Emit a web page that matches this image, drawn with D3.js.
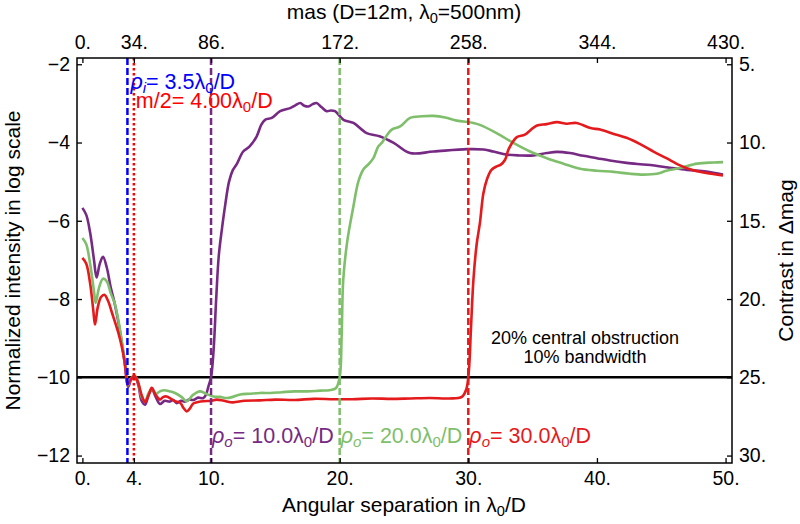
<!DOCTYPE html>
<html>
<head>
<meta charset="utf-8">
<script src="https://cdn.jsdelivr.net/npm/d3@7"></script>
<style>
  body { margin: 0; background: #fff; }
  svg { font-family: "Liberation Sans", Arial, sans-serif; }
</style>
</head>
<body>
<div id="chart"></div>
<script>
// curves: x in lambda0/D, y = log10 normalized intensity
const purpleX = [0.0, 0.3, 0.6, 0.9, 1.1, 1.35, 1.6, 1.9, 2.2, 2.5, 2.8, 3.1, 3.35, 3.55, 3.8, 4.05, 4.35, 4.6, 4.87, 5.15, 5.4, 5.7, 6.03, 6.4, 6.8, 7.05, 7.33, 7.65, 7.98, 8.3, 8.62, 9.0, 9.4, 9.6, 9.8, 10.0, 10.2, 10.4, 10.6, 10.85, 11.1, 11.4, 11.7, 12.0, 12.5, 13.0, 13.55, 13.9, 14.2, 14.72, 15.37, 16.15, 16.55, 16.93, 17.25, 17.57, 17.9, 18.2, 18.6, 19.0, 19.3, 19.64, 20.3, 21.07, 22.1, 23.1, 24.2, 25.47, 27.3, 29.9, 31.2, 31.95, 33.0, 34.0, 35.06, 36.1, 36.9, 37.9, 38.95, 40.0, 41.0, 42.3, 43.9, 45.4, 47.0, 48.5, 49.8];
const purpleY = [-5.67, -5.85, -6.3, -7.0, -7.45, -7.1, -6.92, -7.2, -7.7, -8.1, -8.6, -9.2, -9.8, -10.25, -10.05, -9.97, -10.2, -10.6, -10.7, -10.45, -10.31, -10.5, -10.68, -10.6, -10.62, -10.58, -10.66, -10.6, -10.62, -10.57, -10.58, -10.52, -10.53, -10.45, -10.23, -10.0, -9.3, -8.0, -6.9, -6.2, -5.6, -5.0, -4.7, -4.55, -4.23, -4.1, -3.84, -3.55, -3.42, -3.37, -3.2, -3.12, -3.05, -2.99, -3.06, -3.08, -3.02, -2.99, -3.1, -3.2, -3.18, -3.2, -3.42, -3.5, -3.76, -3.84, -4.01, -4.27, -4.23, -4.17, -4.18, -4.23, -4.31, -4.33, -4.33, -4.27, -4.24, -4.27, -4.34, -4.4, -4.46, -4.52, -4.57, -4.63, -4.7, -4.74, -4.82];

const greenX = [0.0, 0.3, 0.6, 0.9, 1.03, 1.3, 1.6, 1.9, 2.2, 2.5, 2.8, 3.1, 3.35, 3.55, 3.8, 4.05, 4.35, 4.6, 4.87, 5.15, 5.4, 5.7, 6.03, 6.35, 6.8, 7.2, 7.7, 8.11, 8.6, 9.14, 9.6, 10.18, 10.7, 11.22, 11.7, 12.26, 13.0, 13.8, 14.6, 15.5, 16.5, 17.5, 18.5, 19.2, 19.7, 20.0, 20.15, 20.28, 20.6, 21.07, 21.45, 21.84, 22.25, 22.62, 23.0, 23.27, 23.7, 24.05, 24.7, 25.47, 26.4, 27.3, 28.2, 29.1, 30.4, 30.9, 32.2, 33.5, 34.8, 36.1, 37.4, 38.7, 40.0, 41.3, 42.6, 43.6, 44.66, 45.4, 46.5, 47.8, 49.06, 49.8];
const greenY = [-6.44, -6.6, -7.1, -7.8, -8.1, -7.7, -7.48, -7.55, -7.85, -8.1, -8.55, -9.15, -9.75, -10.2, -10.02, -9.95, -10.15, -10.5, -10.6, -10.4, -10.3, -10.42, -10.36, -10.33, -10.36, -10.4, -10.5, -10.61, -10.45, -10.36, -10.42, -10.49, -10.5, -10.53, -10.5, -10.44, -10.42, -10.4, -10.4, -10.38, -10.36, -10.36, -10.34, -10.33, -10.28, -10.0, -9.0, -7.5, -6.5, -5.63, -5.0, -4.69, -4.55, -4.4, -4.1, -4.01, -3.8, -3.67, -3.59, -3.37, -3.33, -3.32, -3.36, -3.44, -3.5, -3.55, -3.76, -4.01, -4.23, -4.4, -4.54, -4.67, -4.72, -4.75, -4.8, -4.82, -4.8, -4.72, -4.65, -4.54, -4.51, -4.5];

const redX = [0.0, 0.3, 0.6, 0.85, 0.98, 1.2, 1.45, 1.7, 2.0, 2.3, 2.8, 3.05, 3.3, 3.52, 3.8, 4.04, 4.3, 4.6, 4.87, 5.15, 5.39, 5.7, 6.03, 6.3, 6.55, 6.9, 7.2, 7.6, 7.85, 8.11, 8.35, 8.62, 9.0, 9.4, 10.0, 10.44, 11.0, 11.7, 12.6, 13.8, 15.0, 16.5, 18.0, 19.5, 21.0, 22.5, 24.0, 25.5, 27.0, 28.5, 29.5, 29.85, 30.05, 30.2, 30.4, 30.65, 30.9, 31.17, 31.44, 31.8, 32.2, 32.5, 32.86, 33.1, 33.4, 33.77, 34.4, 34.85, 35.3, 36.1, 36.9, 37.66, 38.4, 39.5, 40.25, 41.3, 42.3, 43.36, 44.4, 45.4, 46.5, 47.5, 48.5, 49.8];
const redY = [-6.95, -7.1, -7.6, -8.3, -8.65, -8.2, -7.95, -7.89, -8.05, -8.35, -8.87, -9.2, -9.63, -10.19, -10.03, -9.96, -10.1, -10.45, -10.63, -10.45, -10.27, -10.45, -10.57, -10.5, -10.49, -10.55, -10.61, -10.65, -10.78, -10.87, -10.8, -10.67, -10.63, -10.61, -10.6, -10.57, -10.6, -10.64, -10.6, -10.59, -10.57, -10.58, -10.55, -10.56, -10.56, -10.54, -10.55, -10.54, -10.53, -10.54, -10.5, -10.3, -9.8, -8.8, -7.5, -6.6, -6.06, -5.3, -4.95, -4.7, -4.61, -4.57, -4.44, -4.2, -4.01, -3.86, -3.8, -3.68, -3.57, -3.53, -3.48, -3.52, -3.5, -3.63, -3.67, -3.78, -3.88, -4.04, -4.23, -4.4, -4.59, -4.71, -4.78, -4.84];

const xTicks = [0, 4, 10, 20, 30, 40, 50];
const xTickLabels = ["0.", "4.", "10.", "20.", "30.", "40.", "50."];
const masTickLabels = ["0.", "34.", "86.", "172.", "258.", "344.", "430."];
const yTicks = [-12, -10, -8, -6, -4, -2];
const magTicks = [5, 10, 15, 20, 25, 30];

const innerRadius = 3.5;      // rho_i
const halfSampling = 4.0;     // m/2
const outerRadii = [10, 20, 30];
const threshold = -10;

const W = 800, H = 524;
const margin = { top: 58, right: 68, bottom: 61, left: 77 };
const purple = "#762a83", green = "#7fbf6b", red = "#e41a1c";
const seriesColors = [purple, green, red];

const svg = d3.select("#chart").append("svg")
  .attr("width", W).attr("height", H);

const x = d3.scaleLinear().domain([-0.42, 50.5]).range([margin.left, W - margin.right]);
const y = d3.scaleLinear().domain([-12.19, -1.84]).range([H - margin.bottom, margin.top]);
const yMag = d3.scaleLinear().domain([-2.5 * -12.19, -2.5 * -1.84]).range([H - margin.bottom, margin.top]);

const plotTop = margin.top, plotBottom = H - margin.bottom;

// curves
const line = d3.line()
  .x(d => x(d[0]))
  .y(d => y(d[1]))
  .curve(d3.curveCatmullRom.alpha(0.5));

const series = [
  { xs: purpleX, ys: purpleY, color: purple },
  { xs: greenX, ys: greenY, color: green },
  { xs: redX, ys: redY, color: red }
];

// threshold line
svg.append("line")
  .attr("x1", margin.left).attr("x2", W - margin.right)
  .attr("y1", y(threshold)).attr("y2", y(threshold))
  .attr("stroke", "#000").attr("stroke-width", 2.5);

series.forEach(s => {
  svg.append("path")
    .datum(s.xs.map((v, i) => [v, s.ys[i]]))
    .attr("fill", "none")
    .attr("stroke", s.color)
    .attr("stroke-width", 2.6)
    .attr("stroke-linejoin", "round")
    .attr("d", line);
});

// vertical markers
const vline = (xv, color, dash) => svg.append("line")
  .attr("x1", x(xv)).attr("x2", x(xv))
  .attr("y1", plotTop).attr("y2", plotBottom)
  .attr("stroke", color).attr("stroke-width", 2.5)
  .attr("stroke-dasharray", dash);

vline(innerRadius, "#0000ff", "7,3");
vline(halfSampling, "#ff0000", "2.5,2.5");
outerRadii.forEach((r, i) => vline(r, seriesColors[i], "7,3"));

// frame
svg.append("rect")
  .attr("x", margin.left).attr("y", margin.top)
  .attr("width", W - margin.left - margin.right)
  .attr("height", H - margin.top - margin.bottom)
  .attr("fill", "none").attr("stroke", "#000").attr("stroke-width", 1.5);

// axes (ticks pointing inwards)
const tickFont = "19.5px";
const styleAxis = g => {
  g.select(".domain").remove();
  g.selectAll(".tick line").attr("stroke", "#000").attr("stroke-width", 1.3);
  g.selectAll(".tick text").attr("fill", "#000").style("font-size", tickFont)
    .style("font-family", "Liberation Sans, Arial, sans-serif");
};

svg.append("g")
  .attr("transform", `translate(0,${plotBottom})`)
  .call(d3.axisBottom(x).tickValues(xTicks)
    .tickFormat((d, i) => xTickLabels[i]).tickSizeInner(-5).tickPadding(8))
  .call(styleAxis);

svg.append("g")
  .attr("transform", `translate(0,${plotTop})`)
  .call(d3.axisTop(x).tickValues(xTicks)
    .tickFormat((d, i) => masTickLabels[i]).tickSizeInner(-5).tickPadding(9))
  .call(styleAxis);

svg.append("g")
  .attr("transform", `translate(${margin.left},0)`)
  .call(d3.axisLeft(y).tickValues(yTicks)
    .tickFormat(d => "\u2212" + Math.abs(d)).tickSizeInner(-5).tickPadding(7))
  .call(styleAxis);

svg.append("g")
  .attr("transform", `translate(${W - margin.right},0)`)
  .call(d3.axisRight(yMag).tickValues(magTicks)
    .tickFormat(d => d + ".").tickSizeInner(-5).tickPadding(7))
  .call(styleAxis);

// text with italic / subscript pieces, subscript dropped a little like mathtext
function richText(sel, size, parts) {
  sel.style("font-size", size + "px");
  const drop = 0.2 * size;
  parts.forEach(p => {
    const t = sel.append("tspan").text(p.t);
    if (p.it) t.attr("font-style", "italic");
    if (p.sub) t.attr("font-size", (0.7 * size) + "px").attr("dy", drop);
    if (p.after) t.attr("dy", -drop);
  });
  return sel;
}

const lambda0D = [{ t: "\u03bb" }, { t: "0", sub: true }, { t: "/D", after: true }];
const titleSize = 21;
const annSize = 21.5;

// titles
richText(svg.append("text")
  .attr("x", 404).attr("y", 19).attr("text-anchor", "middle"), titleSize,
  [{ t: "mas (D=12m, " }, { t: "\u03bb" }, { t: "0", sub: true }, { t: "=500nm)", after: true }]);

richText(svg.append("text")
  .attr("x", 404).attr("y", 512).attr("text-anchor", "middle"), titleSize,
  [{ t: "Angular separation in " }, ...lambda0D]);

svg.append("text")
  .attr("transform", `translate(20,${(plotTop + plotBottom) / 2}) rotate(-90)`)
  .attr("text-anchor", "middle").style("font-size", titleSize + "px")
  .text("Normalized intensity in log scale");

svg.append("text")
  .attr("transform", `translate(793,${(plotTop + plotBottom) / 2}) rotate(-90)`)
  .attr("text-anchor", "middle").style("font-size", titleSize + "px")
  .text("Contrast in \u0394mag");

// annotations
richText(svg.append("text")
  .attr("x", x(innerRadius) + 3).attr("y", 89)
  .attr("fill", "#0000ff"), annSize,
  [{ t: "\u03c1", it: true }, { t: "i", it: true, sub: true }, { t: "= " + innerRadius.toFixed(1), after: true }, ...lambda0D]);

richText(svg.append("text")
  .attr("x", x(halfSampling) + 2).attr("y", 108)
  .attr("fill", "#ff0000"), annSize,
  [{ t: "m/2= " + halfSampling.toFixed(2) }, ...lambda0D]);

outerRadii.forEach((r, i) => {
  richText(svg.append("text")
    .attr("x", x(r) + 1).attr("y", 443)
    .attr("fill", seriesColors[i]), annSize,
    [{ t: "\u03c1", it: true }, { t: "o", it: true, sub: true }, { t: "= " + r.toFixed(1), after: true }, ...lambda0D]);
});

svg.append("text")
  .attr("x", 585).attr("y", 344).attr("text-anchor", "middle")
  .style("font-size", "18px").text("20% central obstruction");
svg.append("text")
  .attr("x", 585).attr("y", 363).attr("text-anchor", "middle")
  .style("font-size", "18px").text("10% bandwidth");
</script>
</body>
</html>
